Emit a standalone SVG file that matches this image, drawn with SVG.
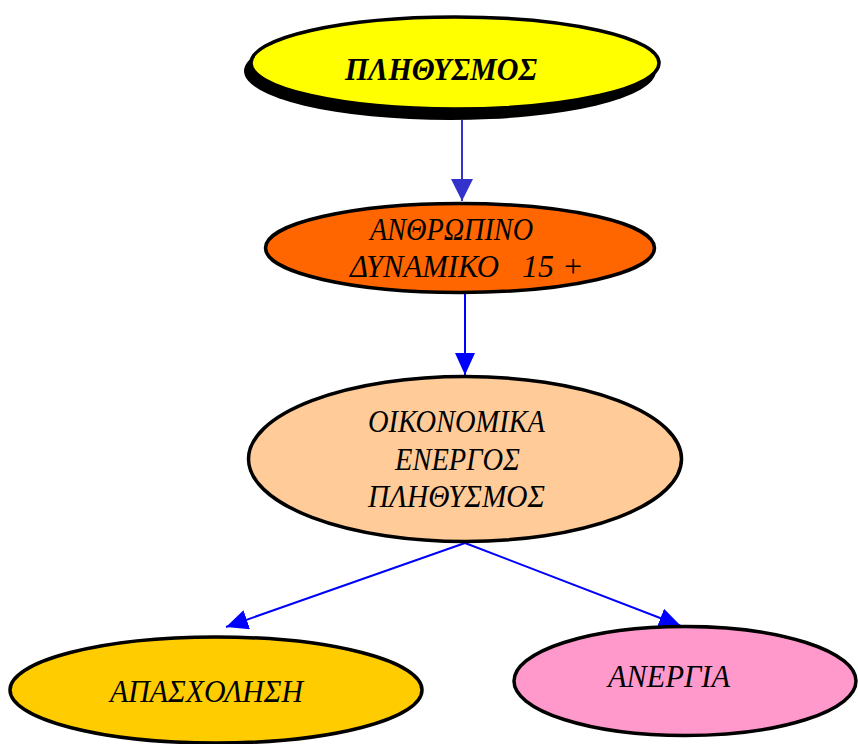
<svg xmlns="http://www.w3.org/2000/svg" width="858" height="744" viewBox="0 0 858 744">
<style>
.node{stroke:#000;stroke-width:3.5}
.t{font-family:"Liberation Serif","Times New Roman",serif;font-style:italic;font-size:32px;fill:#000}
.c{fill:none;stroke-width:2}
</style>
<defs>
<marker id="ap" markerUnits="userSpaceOnUse" markerWidth="24" markerHeight="24" refX="22" refY="11" orient="auto"><path d="M0,0 L22,11 L0,22 Z" fill="#3333CC"/></marker>
<marker id="ab" markerUnits="userSpaceOnUse" markerWidth="24" markerHeight="24" refX="22" refY="10" orient="auto"><path d="M0,0 L22,10 L0,20 Z" fill="#0000FF"/></marker>
</defs>
<rect width="858" height="744" fill="#fff"/>
<g id="connectors">
<line class="c" x1="462" y1="120" x2="462" y2="201" stroke="#3333CC" marker-end="url(#ap)"/>
<line class="c" x1="465" y1="294" x2="465" y2="375" stroke="#0000FF" marker-end="url(#ab)"/>
<line class="c" x1="465" y1="543" x2="226" y2="627" stroke="#0000FF" marker-end="url(#ab)"/>
<line class="c" x1="465" y1="543" x2="681" y2="626" stroke="#0000FF" marker-end="url(#ab)"/>
</g>
<g id="n1">
<ellipse cx="450" cy="71" rx="206" ry="49" fill="#000"/>
<ellipse class="node" cx="455" cy="63" rx="204" ry="46" stroke-width="4.5" fill="#FFFF00"/>
<text class="t" x="345" y="80" textLength="192" lengthAdjust="spacingAndGlyphs" font-weight="bold">ΠΛΗΘΥΣΜΟΣ</text>
</g>
<g id="n2">
<ellipse class="node" cx="460" cy="248" rx="194.5" ry="44.5" fill="#FF6600"/>
<text class="t" x="370" y="240" textLength="163" lengthAdjust="spacingAndGlyphs">ΑΝΘΡΩΠΙΝΟ</text>
<text class="t" x="350" y="277" textLength="149" lengthAdjust="spacingAndGlyphs">ΔΥΝΑΜΙΚΟ</text>
<text class="t" x="522" y="277" font-size="29">15 +</text>
</g>
<g id="n3">
<ellipse class="node" cx="465" cy="459" rx="216.5" ry="82.5" fill="#FFCC99"/>
<text class="t" x="368" y="432" textLength="177" lengthAdjust="spacingAndGlyphs">ΟΙΚΟΝΟΜΙΚΑ</text>
<text class="t" x="395" y="470" textLength="125" lengthAdjust="spacingAndGlyphs">ΕΝΕΡΓΟΣ</text>
<text class="t" x="368" y="507" textLength="177" lengthAdjust="spacingAndGlyphs">ΠΛΗΘΥΣΜΟΣ</text>
</g>
<g id="n4">
<ellipse class="node" cx="216" cy="690" rx="206" ry="53" fill="#FFCC00"/>
<text class="t" x="110" y="702" textLength="193" lengthAdjust="spacingAndGlyphs">ΑΠΑΣΧΟΛΗΣΗ</text>
</g>
<g id="n5">
<ellipse class="node" cx="685" cy="681" rx="171" ry="54.5" fill="#FF99CC"/>
<text class="t" x="608" y="687" textLength="122" lengthAdjust="spacingAndGlyphs">ΑΝΕΡΓΙΑ</text>
</g>
</svg>
